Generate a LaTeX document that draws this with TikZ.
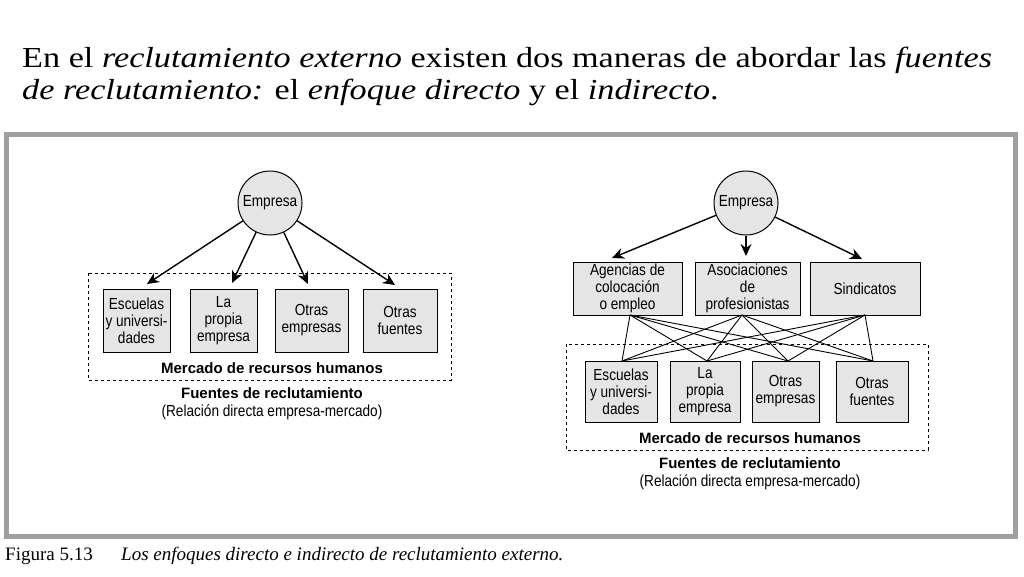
\documentclass[tikz,border=0pt]{standalone}
\usepackage{fontspec}
\setmainfont{Liberation Serif}
\newfontfamily\tfont[FakeStretch=1.18]{Liberation Serif}
\newfontfamily\dsans{Liberation Sans}
\newfontfamily\nsans[FakeStretch=0.85]{Liberation Sans}
\usetikzlibrary{arrows.meta}
\begin{document}
\begin{tikzpicture}[x=1pt,y=-1pt,
  box/.style={draw,fill=gray!20,line width=1pt,inner sep=0pt,align=center,font=\nsans\fontsize{16}{17}\selectfont},
  emp/.style={draw,fill=gray!20,line width=1pt,circle,minimum size=64pt,inner sep=0pt,font=\nsans\fontsize{16}{17}\selectfont},
  arr/.style={line width=1.4pt,-{Stealth[length=12pt,width=11pt]}},
  ln/.style={line width=0.9pt},
  dbox/.style={draw,dashed,line width=1pt},
  lab/.style={font=\dsans\bfseries\fontsize{15}{16}\selectfont,inner sep=0pt},
  sub/.style={font=\nsans\fontsize{16}{17}\selectfont,inner sep=0pt}]
\useasboundingbox (0,0) rectangle (1024,576);
\fill[white] (0,0) rectangle (1024,576);
% title
\node[anchor=west,inner sep=0pt,font=\tfont\fontsize{29}{32}\selectfont] (t1) at (22,60) {En el \textit{reclutamiento externo} existen dos maneras de abordar las \textit{fuentes}};
\node[anchor=west,inner sep=0pt,font=\tfont\fontsize{29}{32}\selectfont] (t2) at (22,92) {\textit{de reclutamiento:} el \textit{enfoque directo} y el \textit{indirecto}.};
% frame
\draw[line width=5pt,gray!75] (6,134) rectangle (1015,536) ;
% caption
\node[anchor=west,inner sep=0pt,font=\fontsize{19}{21}\selectfont] (fig) at (5,556) {Figura 5.13};
\node[anchor=west,inner sep=0pt,font=\itshape\fontsize{19}{21}\selectfont] (cap) at (121,556) {Los enfoques directo e indirecto de reclutamiento externo.};
% ---------- left
\node[emp] (e1) at (270,203) {Empresa};
\draw[dbox] (88,273) rectangle (451,380);
\node[box,minimum width=67pt,minimum height=63pt] (l1) at (136.5,320.5) {Escuelas\\y universi-\\dades};
\node[box,minimum width=67pt,minimum height=63pt] (l2) at (223.5,320.5) {La\\propia\\empresa};
\node[box,minimum width=73pt,minimum height=63pt] (l3) at (311.5,320.5) {Otras\\empresas};
\node[box,minimum width=74pt,minimum height=63pt] (l4) at (400,320.5) {Otras\\fuentes};
\coordinate (a1) at (147,284); \coordinate (a2) at (232,283);
\coordinate (a3) at (308,284); \coordinate (a4) at (395,285);
\draw[arr] (e1) -- (a1); \draw[arr] (e1) -- (a2);
\draw[arr] (e1) -- (a3); \draw[arr] (e1) -- (a4);
\node[lab] (m1) at (272,368) {Mercado de recursos humanos};
\node[lab] (f1) at (272,393) {Fuentes de reclutamiento};
\node[sub] (r1) at (272,412) {(Relación directa empresa-mercado)};
% ---------- right
\node[emp] (e2) at (746,203) {Empresa};
\node[box,minimum width=109pt,minimum height=53pt] (t1b) at (627.5,288.5) {Agencias de\\colocación\\o empleo};
\node[box,minimum width=105pt,minimum height=53pt] (t2b) at (747.5,288.5) {Asociaciones\\de\\profesionistas};
\node[box,minimum width=110pt,minimum height=53pt] (t3b) at (865,288.5) {Sindicatos};
\coordinate (b1) at (612,258); \coordinate (b2) at (746,256); \coordinate (b3) at (862,259);
\draw[arr] (e2) -- (b1); \draw[arr] (e2) -- (b2); \draw[arr] (e2) -- (b3);
\draw[dbox] (566,344) rectangle (928,450);
\node[box,minimum width=72pt,minimum height=61pt] (d1) at (621,391.5) {Escuelas\\y universi-\\dades};
\node[box,minimum width=70pt,minimum height=61pt] (d2) at (705,391.5) {La\\propia\\empresa};
\node[box,minimum width=67pt,minimum height=61pt] (d3) at (785.5,391.5) {Otras\\empresas};
\node[box,minimum width=72pt,minimum height=61pt] (d4) at (872,391.5) {Otras\\fuentes};
\foreach \s/\x in {t1b/630,t2b/742,t3b/865}{
  \foreach \d/\y in {d1/622,d2/707,d3/788,d4/873}{
    \draw[ln] (\x,315) -- (\y,361);
  }
}
\node[lab] (m2) at (750,438) {Mercado de recursos humanos};
\node[lab] (f2) at (750,463) {Fuentes de reclutamiento};
\node[sub] (r2) at (750,482) {(Relación directa empresa-mercado)};
\end{tikzpicture}
\end{document}
